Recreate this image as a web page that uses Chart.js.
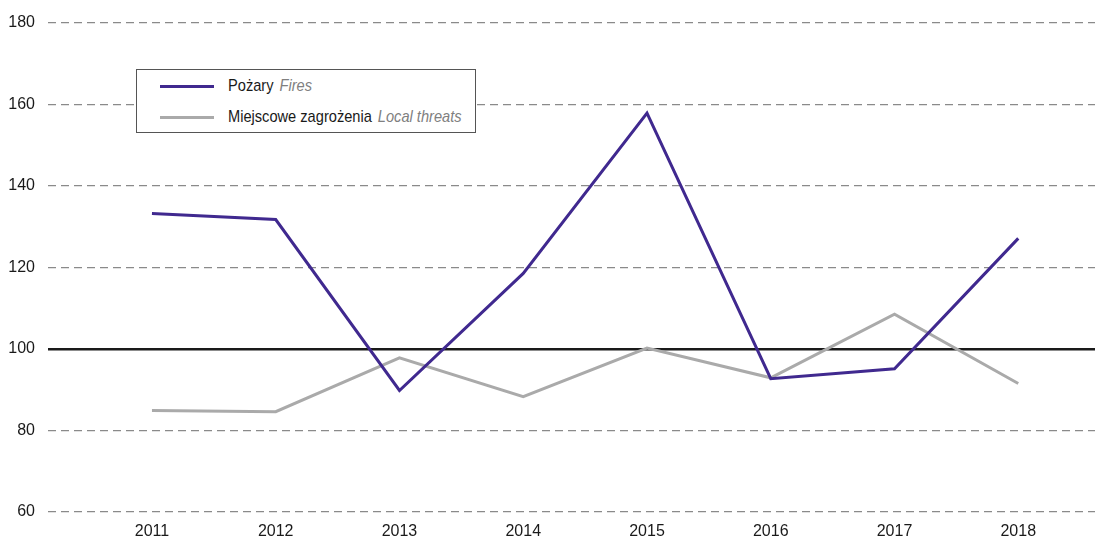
<!DOCTYPE html>
<html>
<head>
<meta charset="utf-8">
<script src="https://cdn.jsdelivr.net/npm/chart.js@4.4.1/dist/chart.umd.min.js"></script>
<style>
  html, body { margin: 0; padding: 0; background: #fff; }
  #wrap { position: relative; width: 1095px; height: 542px; }
  #legend {
    position: absolute; left: 136px; top: 69px; width: 340px; height: 64px;
    border: 1px solid #555; background: #fff; box-sizing: border-box;
    font-family: "Liberation Sans Narrow", "Liberation Sans", sans-serif;
    font-size: 17px; color: #1a1a1a;
  }
  .row { position: absolute; left: 0; height: 20px; line-height: 20px; }
  .swatch { position: absolute; left: 23px; width: 54px; height: 3px; top: 9px; }
  .lbl {
    position: absolute; left: 91px; white-space: nowrap;
    transform: scaleX(0.86); transform-origin: left center;
  }
  .lbl i { color: #808080; margin-left: 7px; }
</style>
</head>
<body>
<div id="wrap">
  <canvas id="indexChart" width="1095" height="542"></canvas>
  <div id="legend">
    <div class="row" style="top:6px"><span class="swatch" style="background:#40298f"></span><span class="lbl">Pożary<i>Fires</i></span></div>
    <div class="row" style="top:37px"><span class="swatch" style="background:#aaaaaa"></span><span class="lbl">Miejscowe zagrożenia<i>Local threats</i></span></div>
  </div>
</div>
<script>
// years on the x axis
const years = [2011, 2012, 2013, 2014, 2015, 2016, 2017, 2018];
// index values (previous year = 100)
const fires = [133.2, 131.7, 89.8, 118.5, 157.8, 92.7, 95.1, 127.1];
const localThreats = [84.9, 84.6, 97.8, 88.3, 100.2, 92.9, 108.5, 91.5];
// y axis ticks
const yTicks = [60, 80, 100, 120, 140, 160, 180];

const fontFamily = '"Liberation Sans Narrow", "Liberation Sans", sans-serif';

function toPoints(values) {
    return years.map((y, i) => ({ x: y, y: values[i] }));
}

new Chart(document.getElementById("indexChart"), {
    type: "line",
    data: {
        datasets: [
            {
                label: "Pożary",
                data: toPoints(fires),
                borderColor: "#40298f",
                borderWidth: 3,
                pointRadius: 0,
                tension: 0
            },
            {
                label: "Miejscowe zagrożenia",
                data: toPoints(localThreats),
                borderColor: "#aaaaaa",
                borderWidth: 3,
                pointRadius: 0,
                tension: 0
            }
        ]
    },
    options: {
        responsive: false,
        animation: false,
        layout: { padding: { top: 20, right: 0, left: 0, bottom: 0 } },
        plugins: {
            legend: { display: false },
            tooltip: { enabled: false }
        },
        scales: {
            x: {
                type: "linear",
                min: 2010.16,
                max: 2018.62,
                afterBuildTicks: scale => {
                    scale.ticks = years.map(v => ({ value: v }));
                },
                afterFit: scale => { scale.height = 30; },
                grid: { display: false, drawTicks: false },
                border: { display: false },
                ticks: {
                    padding: 10,
                    color: "#1a1a1a",
                    font: { family: fontFamily, size: 16 },
                    callback: v => String(v)
                }
            },
            y: {
                min: 60,
                max: 180,
                afterBuildTicks: scale => {
                    scale.ticks = yTicks.map(v => ({ value: v }));
                },
                afterFit: scale => { scale.width = 48; },
                grid: {
                    drawTicks: false,
                    color: ctx => ctx.tick && ctx.tick.value === 100 ? "#1a1a1a" : "#8a8a8a",
                    lineWidth: ctx => ctx.tick && ctx.tick.value === 100 ? 2.6 : 1.3
                },
                border: {
                    display: false,
                    dash: ctx => ctx.tick && ctx.tick.value === 100 ? [] : [8, 5]
                },
                ticks: {
                    padding: 13,
                    color: "#1a1a1a",
                    font: { family: fontFamily, size: 16 }
                }
            }
        }
    }
});
</script>
</body>
</html>
